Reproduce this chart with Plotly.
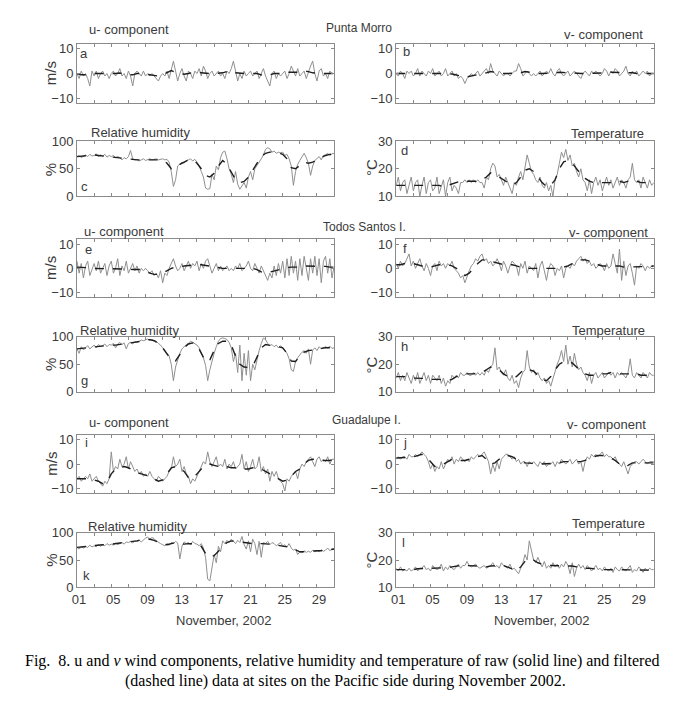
import numpy as np
import plotly.graph_objects as go

W, H = 700, 708
TICK_DAYS = [1, 5, 9, 13, 17, 21, 25, 29]
TICK_TEXT = ['01', '05', '09', '13', '17', '21', '25', '29']

# ---------------- Punta Morro ----------------
a_raw = [0, -2, 1, -1,  0, -2, -5, 1,  -1, 1, -2, 0,  1, -1, 0, -2,  0, 1, -1, 0,
         2, -1, 0, -2,  1, -1, -5, 0,  1, 0, -1, 1,  -1, 0, -1, 0,  -1, -2, -3, -1,
         0, -1, 1, -2,  2, 5, 1, -3,  0, 2, -1, -3,  1, 0, -2, 1,  0, 2, -1, 3,
         1, -2, 0, 1,  -1, 0, 1, -1,  0, -2, 1, 0,  2, 5, 1, -3,  0, -2, 1, -1,
         0, 1, -1, 0,  1, -2, 0, 2,  -1, -3, -5, 0,  1, -2, 0, -1,  0, 1, -2, 0,
         3, 1, -1, 2,  -1, 0, 1, -2,  1, 3, 5, 0,  -3, 1, 2, -1,  0, -2, 1, 0,  0]
a_filt = [0, -0.5, -0.5, -0.5, 0, 0, 0, -0.3, 0, 0, 0.2, -0.3, -0.5, -0.5, 0, 0,
          -0.3, -0.5, -0.8, -1, -0.5, 0.5, 1.2, 0.5, 0, -0.3, 0, 0.5, 0.8, 0.3,
          0, 0, 0, 0, 0.3, 0.8, 1.0, 0.3, 0, 0, 0, 0, 0, -0.5, -1.0, -0.5, 0, 0,
          0, 0.5, 0.5, 0.3, 0.5, 1.0, 0.8, 0.3, 0, 0, 0, 0, 0]

b_raw = [0, -1, 1, 0,  -2, 1, 0, 1,  -1, 0, 2, -1,  1, 0, -1, 1,  0, 2, -1, 0,
         1, -1, 0, 2,  -1, 0, 1, -1,  0, -2, -1, -2,  -4, -2, -1, 0,  -1, 0, 1, -1,
         0, 1, 2, 0,  4, 1, 0, -1,  1, 0, -1, 0,  0, -1, 0, 1,  1, 4, 2, -1,
         0, 1, 0, -1,  0, -1, 0, 1,  -1, 0, 1, 0,  2, 0, -1, 1,  2, 0, -1, 0,
         1, -1, 0, 1,  0, -1, -2, 0,  1, 0, -1, 1,  0, 1, 0, -1,  0, 2, 1, -1,
         1, 0, 2, 1,  -1, 0, 1, 3,  0, -1, 1, 0,  1, -1, 0, 1,  0, 1, -1, 0,  0]
b_filt = [0, 0, 0, 0, 0, 0.2, 0.2, 0, 0, 0, 0, 0, 0, -0.2, -0.5, -1.0, -1.5, -1.2,
          -0.8, -0.3, 0, 0.3, 0.8, 0.5, 0.2, 0, 0, 0, 0, 0.3, 0.8, 0.5, 0.2, 0,
          0, 0, 0, 0.3, 0.5, 0.3, 0.3, 0.3, 0, 0, 0, 0, 0, 0, 0, 0.3, 0.5, 0.5,
          0.5, 0.5, 0.3, 0.3, 0, 0, 0, 0, 0]

c_raw = [72, 74, 70, 73,  75, 72, 76, 73,  74, 77, 72, 75,  73, 76, 71, 74,  72, 74, 70, 72,
         70, 66, 70, 68,  72, 83, 68, 66,  67, 64, 66, 68,  65, 67, 68, 66,  67, 68, 66, 67,
         68, 66, 67, 62,  45, 18, 30, 55,  58, 62, 60, 65,  66, 68, 64, 67,  62, 55, 45, 35,
         15, 13, 14, 40,  30, 55, 48, 70,  80, 82, 68, 50,  40, 25, 45, 22,  13, 18, 25, 15,
         35, 45, 30, 50,  55, 62, 68, 75,  85, 88, 86, 80,  82, 78, 80, 79,  80, 74, 76, 68,
         55, 20, 45, 58,  65, 72, 78, 70,  60, 38, 55, 65,  68, 72, 66, 74,  75, 78, 74, 77,  78]
c_filt = [72, 73, 74, 74, 75, 74, 73, 73, 72, 71, 69, 68, 68, 67, 66, 66, 66, 67, 67, 67,
          66, 60, 50, 52, 58, 62, 66, 66, 60, 50, 38, 35, 42, 55, 65, 58, 45, 30, 25, 27,
          35, 48, 60, 72, 78, 80, 80, 79, 76, 68, 52, 50, 56, 62, 60, 62, 66, 70, 74, 76, 77]

d_raw = [14, 17, 12, 15,  16, 11, 14, 17,  12, 15, 16, 10,  14, 17, 11, 15,  16, 12, 13, 17,
         11, 14, 16, 10,  15, 17, 12, 14,  13, 11, 15, 15,  16, 15, 16, 15,  16, 15, 16, 15,
         15, 13, 17, 16,  20, 22, 21, 17,  18, 16, 14, 17,  15, 13, 11, 15,  14, 17, 19, 16,
         20, 25, 22, 19,  18, 16, 15, 17,  14, 13, 15, 12,  14, 10, 16, 18,  22, 26, 24, 27,
         23, 25, 21, 22,  19, 17, 20, 16,  15, 12, 16, 11,  15, 17, 14, 16,  12, 15, 17, 14,
         16, 13, 15, 17,  14, 16, 15, 13,  16, 17, 22, 16,  15, 16, 13, 17,  15, 13, 16, 14,  15]
d_filt = [14, 14, 14, 14, 14, 14, 14, 14, 14, 14, 14, 13.5, 14, 14.5, 15, 15.5, 15.5, 15.5,
          15.5, 15.5, 16, 17, 18.5, 18, 17, 16, 15, 14, 15, 17, 19.5, 20, 19, 17, 15, 13.5,
          14, 16, 20, 22.5, 23, 22, 20, 18, 16.5, 15.5, 15, 15, 15, 15, 15, 15.5, 15.5, 15,
          15.5, 16, 15.5, 15, 15, 14.5, 14.5]

# ---------------- Todos Santos I. ----------------
e_raw = [3, -2, 2, -4,  1, 3, -3, 0,  2, -1, 3, -2,  0, 2, -3, 1,  3, -2, 0, 4,
         -3, 1, -1, 3,  -2, 0, 2, -1,  1, -2, 0, -1,  0, -1, -2, -1,  -3, -2, -4, -1,
         -6, -2, -3, 0,  2, 4, 1, -1,  0, 2, -1, 1,  3, 0, 2, 1,  3, -1, 2, 0,
         3, 4, 1, -2,  0, 2, -1, 1,  -1, 0, 1, -1,  0, -1, 1, 0,  2, -1, 0, 1,
         3, 0, -1, 2,  0, -2, 1, -1,  -3, -5, -2, -4,  1, -3, 2, -2,  3, -4, 4, -3,
         5, -2, 3, -5,  4, -3, 5, 0,  -5, 4, -2, 5,  -3, 4, -6, 3,  5, -2, 4, -4,  1]
e_filt = [0.5, 0.5, 0.3, 0, 0, 0, 0, 0, 0, 0, 0, 0, -0.3, -0.5, -0.5, -0.5, -1, -2, -2.5,
          -2.5, -2, -1, 0, 0.5, 0.5, 1, 1.2, 1.5, 1.5, 1.5, 1.2, 1, 0.5, 0.3, 0, 0, 0, 0,
          0.2, 0.3, 0.3, 0, -0.5, -1.5, -2, -1.5, -1, -0.5, 0, 0.3, 0.5, 0.5, 0.5, 1, 1,
          1, 1, 1, 0.8, 0.5, 0.5]

f_raw = [2, 0, 3, 1,  2, 4, 6, 1,  3, 0, 2, 4,  1, -1, 2, 0,  -3, 1, 2, -1,
         3, 1, 2, 0,  2, 1, 3, 0,  -1, -2, -4, -3,  -6, -3, -1, 1,  2, 4, 3, 5,
         6, 3, 4, 2,  3, 1, 2, 4,  2, -1, 3, 1,  -2, 1, 3, 2,  1, -3, 2, 0,
         3, -2, 1, 0,  -1, 2, -4, 1,  3, -1, -5, 0,  2, 1, -3, 0,  -1, 1, -4, 0,
         1, 0, 2, 1,  3, 4, 5, 3,  4, 2, 3, 1,  2, 0, 1, 2,  1, -1, 2, 0,
         1, 6, 2, -2,  8, -5, 3, -3,  1, 2, -2, -7,  1, 0, 2, 1,  -1, 1, 0, 1,  1]
f_filt = [1.5, 1.5, 2, 2, 2, 1.5, 1, 1, 0.5, 1, 1.5, 1.5, 1.5, 1, 0, -1.5, -3, -2, 0,
          2, 3.5, 3.5, 3, 2.5, 2, 1.5, 1.5, 1.5, 1, 0.5, 0.5, 0, 0, 0, 0, 0, 0, 0, 0,
          0.5, 1, 2, 3, 3.5, 3.5, 3, 2, 1.5, 1, 1, 1, 1, 1, 0.5, 0.5, 0.5, 0.5, 0.5,
          0.5, 0.8, 1]

g_raw = [78, 70, 82, 76,  80, 84, 78, 82,  85, 80, 86, 83,  84, 87, 82, 86,  85, 88, 80, 87,
         90, 86, 89, 78,  88, 90, 87, 91,  90, 92, 94, 93,  95, 96, 94, 95,  93, 92, 88, 85,
         80, 75, 70, 65,  50, 20, 45, 60,  70, 78, 82, 86,  88, 92, 90, 88,  85, 80, 70, 62,
         48, 20, 40, 58,  70, 82, 92, 97,  98, 97, 95, 90,  80, 55, 70, 35,  85, 20, 70, 30,
         75, 20, 50, 40,  60, 75, 88, 98,  95, 88, 84, 86,  82, 85, 80, 84,  80, 75, 70, 60,
         40, 37, 55, 62,  68, 72, 75, 70,  78, 50, 76, 80,  75, 82, 78, 80,  82, 80, 83, 79,  80]
g_filt = [78, 79, 80, 81, 82, 82, 83, 84, 85, 85, 86, 87, 88, 89, 90, 92, 94, 95, 93, 88,
          80, 70, 58, 56, 68, 80, 87, 89, 85, 70, 55, 58, 75, 88, 92, 92, 85, 65, 50, 45,
          44, 46, 62, 80, 86, 84, 83, 82, 80, 70, 56, 55, 65, 72, 75, 76, 78, 79, 80, 80, 80]

h_raw = [15, 17, 14, 16,  14, 17, 15, 13,  16, 14, 17, 13,  15, 17, 14, 16,  13, 16, 15, 14,
         16, 13, 15, 12,  14, 13, 16, 15,  16, 15, 17, 16,  16, 17, 16, 16,  17, 16, 17, 16,
         17, 16, 18, 17,  19, 20, 26, 18,  19, 17, 16, 18,  15, 14, 16, 13,  14, 11.5, 15, 17,
         18, 25, 19, 17,  18, 16, 17, 15,  14, 15, 13, 14,  12, 15, 18, 20,  22, 25, 21, 27,
         20, 23, 19, 24,  20, 18, 19, 17,  16, 14, 17, 13,  16, 17, 15, 16,  17, 15, 16, 17,
         16, 17, 15, 17,  16, 17, 16, 15,  17, 22, 16, 15,  17, 16, 15, 17,  16, 15, 17, 16,  16]
h_filt = [15.5, 15.5, 15.5, 15, 15, 15, 15, 14.8, 14.5, 14.5, 14.5, 14.2, 14, 14.5, 15.5,
          16, 16.5, 16.5, 16.5, 16.8, 17, 18, 19, 18.5, 18, 16.5, 15.5, 15, 15.5, 17, 18.5,
          18, 17.5, 16, 14.5, 14, 15.5, 18, 20, 21, 21, 20.5, 19, 17.5, 16.5, 16, 16, 16.5,
          16.5, 16.5, 17, 16.5, 16.5, 16.5, 16.5, 16.5, 16.5, 16, 16, 16, 16]

# ---------------- Guadalupe I. ----------------
i_raw = [-6, -5, -7, -6,  -5, -6, -4, -7,  -6, -5, -7, -8,  -9, -7, -8, -6,  5, -3, -1, -2,
         2, -1, 0, 3,  -2, 1, -1, -3,  -2, -4, -3, -5,  -4, -5, -3, -5,  -6, -7, -5, -6,
         -7, -6, -5, -3,  -2, 3, -1, 0,  2, -3, -1, -4,  -5, -8, -6, -7,  -5, -3, -1, 1,
         0, 5, 1, -1,  1, 3, -1, 0,  -1, 2, -2, 0,  -1, 1, -2, -1,  0, 4, -2, 1,
         -3, -1, 2, -2,  -1, 3, -3, -1,  -4, -2, -7, -3,  -5, -3, -6, -7,  -8, -11, -6, -7,
         -5, -4, -3, -6,  -2, 0, -1, 1,  2, 3, 1, -1,  2, 3, 1, 2,  1, 3, 0, 2,  2]
i_filt = [-6, -6, -6, -6, -6.5, -7, -8, -7.5, -4, -2, -1.5, -1, -1.5, -2.5, -3.5, -4, -4.5,
          -5, -6, -7, -6.5, -4, -1.5, -1, -2, -3, -5.5, -6, -4, -2, -0.5, 0, -0.5, -1, -1,
          -1, -1.5, -1.5, -1.5, -2, -2, -1.5, -1.5, -2, -3, -4, -5, -6, -7, -6.5, -5, -3,
          -2, 0, 1.5, 2, 2, 1.5, 1.5, 1.5, 2]

j_raw = [2, 3, 2, 3,  3, 2, 4, 3,  3, 4, 3, 4,  5, 4, 3, 1,  -2, 0, -3, -1,
         -2, 1, -2, 0,  2, 1, 3, 0,  2, 1, 3, 2,  1, 2, 1, 3,  2, 3, 4, 3,
         4, 5, 3, 1,  -4, 0, -3, 1,  -2, 2, 3, 4,  4, 3, 2, 3,  1, 2, 0, 1,
         1, -1, 1, 0,  1, 0, -1, 1,  0, 1, -1, 0,  0, 1, -1, 1,  0, 2, 1, 0,
         1, 2, 0, 1,  2, 0, 1, -3,  1, 3, 2, 4,  3, 4, 3, 4,  5, 3, 4, 3,
         3, 2, 3, 1,  0, -1, 1, -2,  -4, -1, 0, 1,  1, 0, 1, 2,  1, 0, 1, 1,  1]
j_filt = [2.5, 2.5, 2.5, 2.8, 3, 3.5, 4, 3, 1, -1, -1, 0, 1, 2, 1.5, 1.5, 1.5, 2, 2.5, 3,
          3.5, 2, 0, 0.5, 2, 3.5, 3.5, 3, 2, 1, 0.5, 0.5, 0.3, 0, 0, 0, 0, 0.3, 0.5, 1,
          1, 1, 1, 1, 1.5, 2.5, 3, 3.5, 3.5, 3, 2.5, 1.5, 0, -1, -0.5, 0.5, 0.5, 0.5,
          0.5, 0.5, 0.5]

k_raw = [73, 70, 74, 72,  75, 73, 77, 74,  76, 74, 78, 75,  78, 76, 80, 77,  79, 77, 81, 78,
         80, 82, 79, 83,  82, 84, 81, 85,  84, 86, 83, 87,  90, 92, 88, 91,  89, 85, 82, 80,
         78, 76, 80, 77,  82, 80, 84, 81,  52, 75, 83, 80,  82, 78, 84, 80,  79, 76, 80, 72,
         55, 15, 12, 35,  60, 45, 75, 65,  85, 80, 86, 82,  88, 84, 80, 86,  82, 93, 78, 70,
         85, 65, 88, 80,  60, 84, 55, 82,  80, 84, 78, 82,  80, 76, 79, 82,  75, 78, 74, 80,
         72, 68, 70, 60,  65, 63, 67, 64,  66, 64, 68, 65,  67, 65, 69, 66,  68, 72, 67, 70,  70]
k_filt = [73, 74, 75, 75, 76, 77, 78, 78, 79, 79, 80, 81, 82, 83, 85, 87, 88, 88, 86, 83,
          79, 78, 80, 82, 80, 79, 80, 80, 79, 75, 62, 55, 58, 66, 75, 82, 85, 84, 82, 81,
          80, 79, 79, 80, 80, 79, 78, 77, 76, 74, 72, 68, 65, 65, 66, 66, 67, 67, 68, 69, 70]

l_raw = [17, 16, 17.5, 16,  16.5, 16, 17, 16,  16.5, 17.5, 16, 17,  17, 18, 16.5, 17,
         16, 18, 17, 16.5,  17, 18.5, 16, 17.5,  16.5, 18, 17, 16.5,  17.5, 18.5, 17, 18,
         18, 19.5, 18, 17.5,  18, 18.5, 17.5, 17,  17.5, 18, 17, 17.5,  18, 19, 17.5, 18,
         17, 19, 18, 17.5,  17, 18.5, 16.5, 17,  16, 15, 17, 19,  22, 20, 27, 24,
         20, 19, 21, 19,  17.5, 19.5, 17, 18,  17, 19, 17.5, 18.5,  17, 18.5, 17.5, 19.5,
         18, 15, 19, 14,  17, 18.5, 17, 18,  16.5, 18, 17, 16,  17, 18, 16.5, 17,
         16, 17.5, 16.5, 16,  17, 15.5, 17.5, 16.5,  16, 17.5, 16.5, 16,  17, 18, 15.5, 16.5,
         16, 17.5, 16.5, 15.5,  17, 16, 17, 16.5,  16.5]
l_filt = [16.5, 16.5, 16.5, 16.5, 16.5, 16.8, 17, 17, 17, 17, 17, 17.2, 17.2, 17.5, 17.8,
          18, 18, 18, 18, 17.8, 17.6, 17.5, 17.8, 18, 18, 18, 17.5, 16.8, 16, 17.5, 19.5,
          20.5, 20, 19, 18.5, 18, 18, 18, 18, 18, 18, 17.8, 17.5, 17.2, 17, 17, 16.8, 16.8,
          16.5, 16.5, 16.5, 16.5, 16.5, 16.5, 16.5, 16.5, 16.5, 16.3, 16.3, 16.3, 16.3]

# ---------------- layout helpers (pixel geometry) ----------------
COLS = [(72.5, 331.5), (394.0, 653.5)]
ROWS = [(37.5, 98.5), (137.0, 193.5), (237.5, 296.5), (337.0, 393.0), (437.0, 497.0), (537.0, 593.0)]
RANGES = {'wind': [-12, 12], 'rh': [0, 100], 't': [10, 30]}
YTICKS = {'wind': [-10, 0, 10], 'rh': [0, 50, 100], 't': [10, 20, 30]}

panels = [
    ('a', a_raw, a_filt, 'wind', 0, 0), ('b', b_raw, b_filt, 'wind', 0, 1),
    ('c', c_raw, c_filt, 'rh', 1, 0), ('d', d_raw, d_filt, 't', 1, 1),
    ('e', e_raw, e_filt, 'wind', 2, 0), ('f', f_raw, f_filt, 'wind', 2, 1),
    ('g', g_raw, g_filt, 'rh', 3, 0), ('h', h_raw, h_filt, 't', 3, 1),
    ('i', i_raw, i_filt, 'wind', 4, 0), ('j', j_raw, j_filt, 'wind', 4, 1),
    ('k', k_raw, k_filt, 'rh', 5, 0), ('l', l_raw, l_filt, 't', 5, 1),
]

def px(x):
    return x / W

def py(y):
    return 1 - y / H

FONT = 'Liberation Sans, Arial, sans-serif'
TXT = '#3a3a3a'
AX = '#8a8a8a'

fig = go.Figure()
layout = dict(width=W, height=H, margin=dict(l=0, r=0, t=0, b=0),
              paper_bgcolor='white', plot_bgcolor='white', showlegend=False,
              font=dict(family=FONT, size=13, color=TXT))
annotations = []

for n, (letter, raw, filt, kind, r, c) in enumerate(panels, start=1):
    xa = 'x' if n == 1 else f'x{n}'
    ya = 'y' if n == 1 else f'y{n}'
    xr = np.linspace(1, 31, len(raw))
    xf = np.linspace(1, 31, len(filt))
    fig.add_trace(go.Scatter(x=xr, y=raw, mode='lines', xaxis=xa, yaxis=ya,
                             line=dict(color='#8f8f8f', width=1), hoverinfo='skip'))
    fig.add_trace(go.Scatter(x=xf, y=filt, mode='lines', xaxis=xa, yaxis=ya,
                             line=dict(color='#1e1e1e', width=1.4, dash='dash'), hoverinfo='skip'))
    x0, x1 = COLS[c]
    y0, y1 = ROWS[r]
    bottom = r == 5
    layout['xaxis' if n == 1 else f'xaxis{n}'] = dict(
        domain=[px(x0), px(x1)], anchor=ya, range=[1, 31],
        tickmode='array', tickvals=list(range(1, 31, 2)),
        ticktext=[TICK_TEXT[TICK_DAYS.index(d)] if d in TICK_DAYS else '' for d in range(1, 31, 2)],
        showticklabels=bottom, ticks='inside', ticklen=3, tickcolor=AX,
        showline=True, linecolor=AX, linewidth=1, mirror='ticks',
        showgrid=False, zeroline=False, tickfont=dict(size=13, color=TXT),
        ticklabelshift=2)
    layout['yaxis' if n == 1 else f'yaxis{n}'] = dict(
        domain=[py(y1), py(y0)], anchor=xa, range=RANGES[kind],
        tickmode='array', tickvals=YTICKS[kind],
        ticks='inside', ticklen=3, tickcolor=AX,
        showline=True, linecolor=AX, linewidth=1, mirror='ticks',
        showgrid=False, zeroline=False, tickfont=dict(size=13, color=TXT))

def ann(text, x, y, xanchor='center', size=13, color=TXT, family=FONT, angle=0):
    annotations.append(dict(text=text, x=px(x), y=py(y), xref='paper', yref='paper',
                            xanchor=xanchor, yanchor='middle', showarrow=False,
                            textangle=angle, font=dict(size=size, color=color, family=family)))

# titles per row-pair
for (uy, vy, sy, site, sx, ux, vx, rhy, rhx, ty, tx) in [
        (23, 28, 21, 'Punta Morro', 357, 83, 645, 128, 85, 129, 646),
        (229, 230, 225, 'Todos Santos I.', 362, 78, 650, 331, 74, 331, 647),
        (425, 427, 422, 'Guadalupe I.', 364, 83, 648, 531, 82, 528, 647)]:
    ann('u- component', ux, uy, 'left')
    ann('v- component', vx, vy, 'right')
    ann(site, sx, sy, 'center', size=12)
    ann('Relative humidity', rhx, rhy, 'left')
    ann('Temperature', tx, ty, 'right')

# panel letters
for letter, x, y in [('a', 80, 48), ('b', 404, 45), ('c', 80, 183), ('d', 402, 147),
                     ('e', 84, 248), ('f', 403, 247), ('g', 80, 382), ('h', 402, 347),
                     ('i', 82, 445), ('j', 403, 445), ('k', 82, 581), ('l', 401, 547)]:
    ann(letter, x, y, 'center', size=13)

# y axis titles
for y in (68, 267, 467):
    ann('m/s', 46, y, 'center', size=15, angle=-90)
for y in (166, 365, 565):
    ann('%', 46, y, 'center', size=15, angle=-90)
for y in (164, 366, 565):
    ann('°C', 369, y, 'center', size=15, angle=-90)

# x axis titles
ann('November, 2002', 220, 627, 'center', size=13)
ann('November, 2002', 540, 627, 'center', size=13)

# caption
SERIF = 'Liberation Serif, Times New Roman, serif'
ann('Fig.  8. u and <i>v</i> wind components, relative humidity and temperature of raw (solid line) and filtered',
    340, 668, 'center', size=16, color='#000000', family=SERIF)
ann('(dashed line) data at sites on the Pacific side during November 2002.',
    343, 689, 'center', size=16, color='#000000', family=SERIF)

layout['annotations'] = annotations
fig.update_layout(**layout)
fig.write_html('out.html', config={'displayModeBar': False},
               post_script=("document.body.style.margin='0px';document.body.style.padding='0px';"
                            "document.body.style.overflow='hidden';"
                            "document.documentElement.style.overflow='hidden';"))
